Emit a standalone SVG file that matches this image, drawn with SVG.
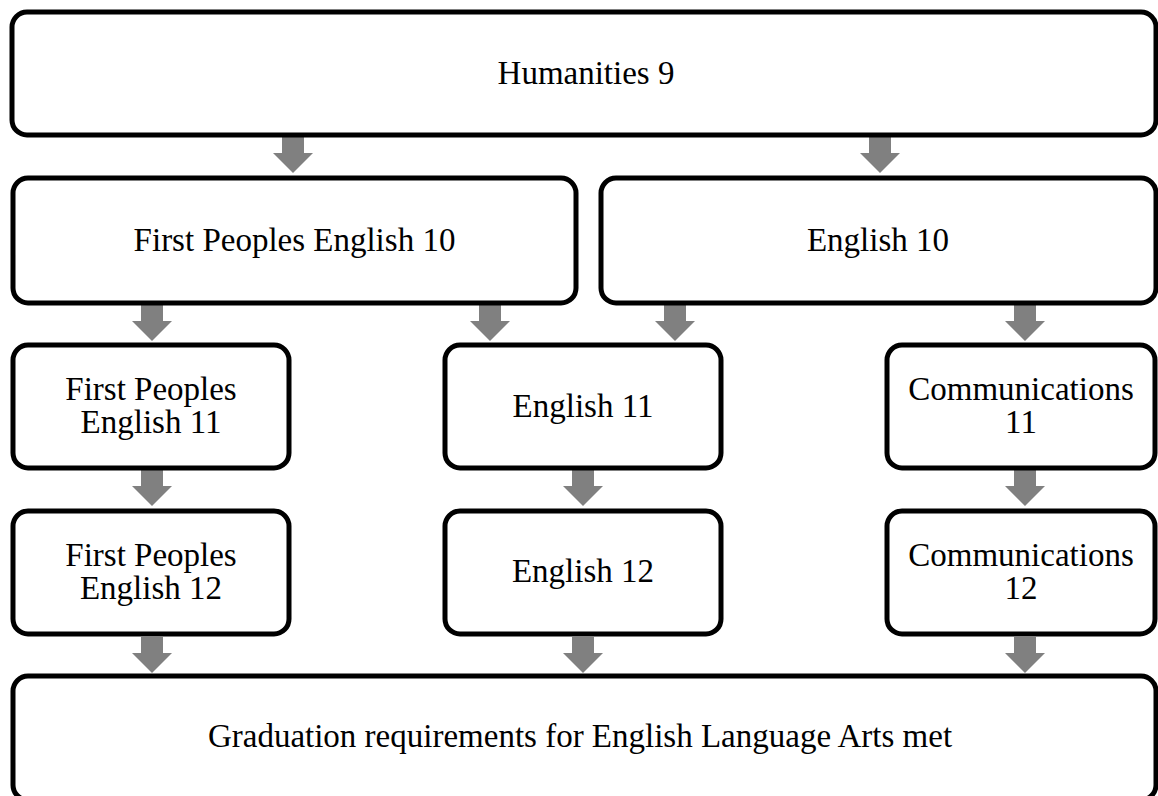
<svg xmlns="http://www.w3.org/2000/svg" width="1158" height="796" viewBox="0 0 1158 796">
<defs>
<style>
.box{fill:#fff;stroke:#000;stroke-width:5}
.lbl{font-family:"Liberation Serif","Times New Roman",serif;font-size:33px;fill:#000;text-anchor:middle}
.arr{fill:#808080}
</style>
<path id="a" d="M-11,0 H11 V16 H20 L0,36 L-20,16 H-11 Z"/>
</defs>
<rect width="1158" height="796" fill="#fff"/>
<g id="connectors" class="arr">
<use href="#a" x="293" y="137"/>
<use href="#a" x="880" y="137"/>
<use href="#a" x="152" y="305"/>
<use href="#a" x="490" y="305"/>
<use href="#a" x="675" y="305"/>
<use href="#a" x="1025" y="305"/>
<use href="#a" x="152" y="470"/>
<use href="#a" x="583" y="470"/>
<use href="#a" x="1025" y="470"/>
<use href="#a" x="152" y="637"/>
<use href="#a" x="583" y="637"/>
<use href="#a" x="1025" y="637"/>
</g>
<g id="humanities9">
<rect class="box" x="12" y="12" width="1144" height="123" rx="15"/>
<text class="lbl" x="586" y="84">Humanities 9</text>
</g>
<g id="fpe10">
<rect class="box" x="13" y="178" width="563" height="125" rx="15"/>
<text class="lbl" x="294.5" y="251">First Peoples English 10</text>
</g>
<g id="english10">
<rect class="box" x="601" y="178" width="555" height="125" rx="15"/>
<text class="lbl" x="878" y="251">English 10</text>
</g>
<g id="fpe11">
<rect class="box" x="13" y="345" width="276" height="123" rx="15"/>
<text class="lbl" x="151" y="400">First Peoples</text>
<text class="lbl" x="151" y="433">English 11</text>
</g>
<g id="english11">
<rect class="box" x="445" y="345" width="276" height="123" rx="15"/>
<text class="lbl" x="583" y="417">English 11</text>
</g>
<g id="comm11">
<rect class="box" x="887" y="345" width="268" height="123" rx="15"/>
<text class="lbl" x="1021" y="400">Communications</text>
<text class="lbl" x="1021" y="433">11</text>
</g>
<g id="fpe12">
<rect class="box" x="13" y="511" width="276" height="123" rx="15"/>
<text class="lbl" x="151" y="566">First Peoples</text>
<text class="lbl" x="151" y="599">English 12</text>
</g>
<g id="english12">
<rect class="box" x="445" y="511" width="276" height="123" rx="15"/>
<text class="lbl" x="583" y="582">English 12</text>
</g>
<g id="comm12">
<rect class="box" x="887" y="511" width="268" height="123" rx="15"/>
<text class="lbl" x="1021" y="566">Communications</text>
<text class="lbl" x="1021" y="599">12</text>
</g>
<g id="graduation">
<rect class="box" x="13" y="676" width="1143" height="124" rx="15"/>
<text class="lbl" x="580" y="747">Graduation requirements for English Language Arts met</text>
</g>
</svg>
